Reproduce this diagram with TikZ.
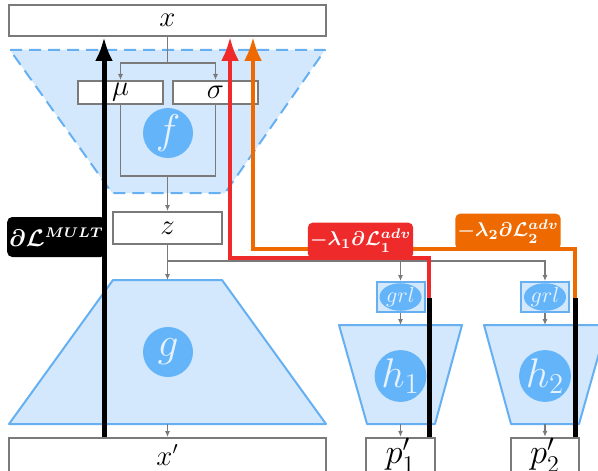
\documentclass[tikz,border=0pt]{standalone}
\usepackage{amsmath,bm}
\usetikzlibrary{arrows.meta,shapes.geometric,calc}
\definecolor{lblue}{HTML}{D3E8FC}
\definecolor{mblue}{HTML}{64B4FA}
\definecolor{bblue}{HTML}{66B0F2}
\definecolor{gline}{HTML}{7A7A7A}
\definecolor{myred}{HTML}{EE2A2A}
\definecolor{myorange}{HTML}{EE6A00}
\definecolor{ctext}{HTML}{E6F2FF}
\begin{document}
\begin{tikzpicture}[x=0.5pt,y=-0.5pt,
 box/.style={draw=gline,line width=1pt,fill=white,inner sep=0pt,font=\fontsize{13.5}{16}\selectfont},
 conn/.style={draw=gline,line width=0.75pt},
 conna/.style={conn,-{Latex[length=3pt,width=2.6pt]}},
 circ/.style={circle,fill=mblue,minimum size=25pt,inner sep=0pt,text=ctext,font=\fontsize{21}{24}\selectfont},
 trap/.style={fill=lblue,draw=bblue,line width=1pt,line join=round},
 bigtip/.style={-{Latex[length=12pt,width=9pt]}},
 blk/.style={draw=black,line width=2.5pt},
 redl/.style={draw=myred,line width=2pt},
 orl/.style={draw=myorange,line width=2pt},
 lab/.style={text=white,inner xsep=1pt,inner ysep=1pt,rounded corners=2.5pt,font=\fontsize{10}{12}\selectfont\boldmath},
 grlbox/.style={draw=bblue,fill=lblue,line width=1pt,minimum width=24pt,minimum height=15pt,inner sep=0pt},
 grlell/.style={ellipse,fill=mblue,minimum width=21pt,minimum height=11.5pt,inner sep=0pt,text=ctext,font=\fontsize{10.5}{11}\selectfont}
]
\useasboundingbox (0,0) rectangle (598,470);

% trapezoids
\path[trap,dashed,dash pattern=on 6pt off 3.5pt] (10,50) -- (325,50) -- (225,193) -- (112,193) -- cycle;
\path[trap] (113,280) -- (222,280) -- (326,424) -- (9,424) -- cycle;
\path[trap] (339,325) -- (462,325) -- (435,424) -- (367,424) -- cycle;
\path[trap] (484,325) -- (607,325) -- (579,424) -- (511,424) -- cycle;

% boxes
\node[box,minimum width=158.5pt,minimum height=15.5pt] (x) at (167.5,20.5) {$x$};
\node[box,minimum width=42.5pt,minimum height=11.5pt] (mu) at (120.5,92.5) {$\mu$};
\node[box,minimum width=42.5pt,minimum height=11.5pt] (sig) at (215.5,92.5) {$\sigma$};
\node[box,minimum width=54.5pt,minimum height=16pt] (z) at (167.5,228) {$z$};
\node[box,minimum width=158.5pt,minimum height=17pt] (xp) at (167.5,455) {$x'$};
\node[box,minimum width=34.5pt,minimum height=17pt,font=\fontsize{17}{20}\selectfont] (p1) at (400.5,455) {$p_1'$};
\node[box,minimum width=34pt,minimum height=17pt,font=\fontsize{17}{20}\selectfont] (p2) at (545,455) {$p_2'$};

% circles
\node[circ] (f) at (168,133) {$f$};
\node[circ] (g) at (168,352) {$g$};
\node[circ] (h1) at (400.5,376) {$h_1$};
\node[circ] (h2) at (545,376) {$h_2$};

% grl
\node[grlbox] (grl1) at (400.5,297) {};
\node[grlell] (e1) at (grl1) {$grl$};
\node[grlbox] (grl2) at (545,297) {};
\node[grlell] (e2) at (grl2) {$grl$};

% grey connectors
\coordinate (s1) at (167.5,63);
\draw[conn] (x.south) -- (s1);
\draw[conna] (s1) -| (mu.north);
\draw[conna] (s1) -| (sig.north);
\coordinate (fo) at (167.5,176);
\draw[conn] (mu.south) |- (fo) -| (sig.south);
\draw[conna] (fo) -- (z.north);
\coordinate (gt) at (167.5,280);
\draw[conna] (z.south) -- (gt);
\coordinate (br) at (167.5,261);
\coordinate (b1) at (400.5,261);
\draw[conn] (br) -- (b1);
\draw[conna] (br) -| (grl2.north);
\draw[conna] (b1) -- (grl1.north);
\coordinate (h1t) at (400.5,325);
\coordinate (h1b) at (400.5,424);
\coordinate (h2t) at (545,325);
\coordinate (h2b) at (545,424);
\draw[conna] (grl1.south) -- (h1t);
\draw[conna] (grl2.south) -- (h2t);
\draw[conna] (h1b) -- (p1.north);
\draw[conna] (h2b) -- (p2.north);
\coordinate (gb) at (167.5,424);
\draw[conna] (gb) -- (xp.north);

% gradient paths
\coordinate (mx) at (104,0);
\draw[blk,bigtip] (xp.north -| mx) -- (x.south -| mx);

\coordinate (oc) at (253,249);
\coordinate (ok) at (575,298);
\draw[orl,bigtip] (ok) |- (oc) -- (oc |- x.south);
\coordinate (rc) at (230,258);
\coordinate (rk) at (429,298);
\draw[redl,bigtip] (rk) |- (rc) -- (rc |- x.south);

\draw[blk] (p1.north -| rk) -- (rk);
\draw[blk] (p2.north -| ok) -- (ok);

% labels
\node[lab,fill=black,anchor=east,minimum height=20pt,minimum width=44.5pt,font=\fontsize{11.5}{14}\selectfont\boldmath] (lmult) at (106,237) {$\partial\mathcal{L}^{\mbox{\fontsize{6.6}{8}\selectfont$MULT$}}$};
\node[lab,fill=myred,anchor=south,minimum height=18pt] (lred) at (360.5,259) {$-\lambda_1\partial\mathcal{L}_1^{adv}$};
\node[lab,fill=myorange,anchor=south,minimum height=18pt] (lor) at (508,250) {$-\lambda_2\partial\mathcal{L}_2^{adv}$};
\end{tikzpicture}
\end{document}
